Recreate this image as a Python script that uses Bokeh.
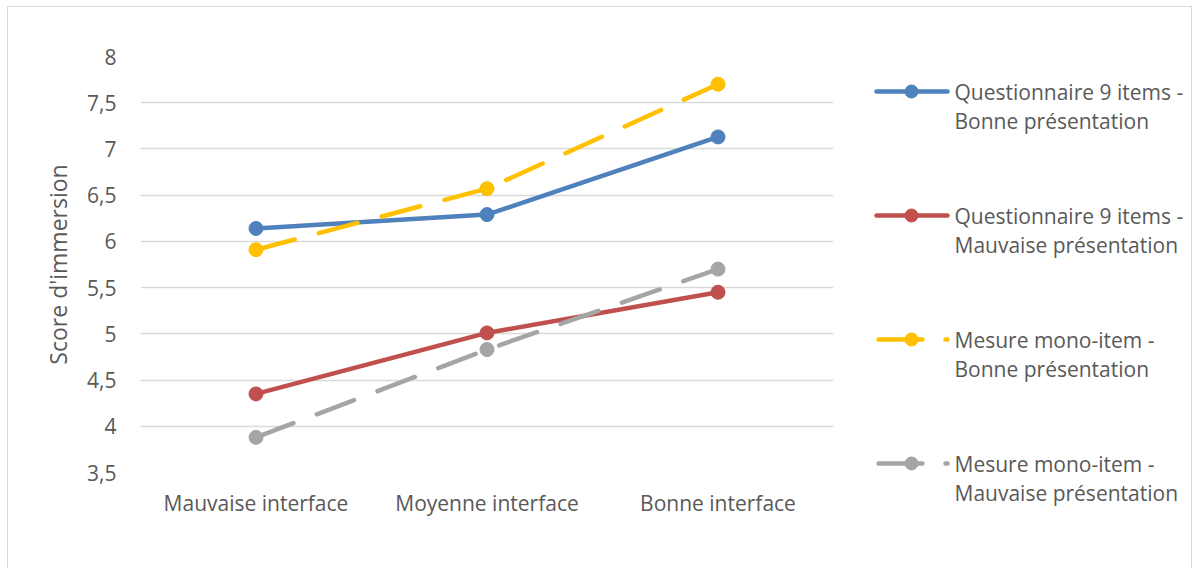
from bokeh.plotting import figure
from bokeh.models import Range1d, FactorRange, FixedTicker
from bokeh.layouts import row, column
from bokeh.embed import file_html
from bokeh.resources import INLINE
from bokeh.core.properties import value

# ---- data ----
categories = ["Mauvaise interface", "Moyenne interface", "Bonne interface"]
q9_bonne = [6.14, 6.29, 7.13]
q9_mauvaise = [4.35, 5.01, 5.45]
mono_bonne = [5.91, 6.57, 7.70]
mono_mauvaise = [3.88, 4.83, 5.70]
series_values = [q9_bonne, q9_mauvaise, mono_bonne, mono_mauvaise]
series_labels = [
    ["Questionnaire 9 items -", "Bonne présentation"],
    ["Questionnaire 9 items -", "Mauvaise présentation"],
    ["Mesure mono-item -", "Bonne présentation"],
    ["Mesure mono-item -", "Mauvaise présentation"],
]
y_ticks = [3.5, 4, 4.5, 5, 5.5, 6, 6.5, 7, 7.5, 8]
y_tick_labels = ["3,5", "4", "4,5", "5", "5,5", "6", "6,5", "7", "7,5", "8"]
y_title = "Score d'immersion"

# ---- styles ----
colors = ["#4f81bd", "#c0504d", "#ffc000", "#a5a5a5"]
dashes = ["solid", "solid", "40 25", "40 25"]
FONT = "Open Sans"
TXT = "#595959"
LW = 4.5

H = 561
TOP, BOTTOM = 49, 96
p = figure(width=850, height=H, x_range=FactorRange(*categories, range_padding=0),
           y_range=Range1d(3.5, 8), output_backend="svg", toolbar_location=None,
           min_border_left=132, min_border_right=25, min_border_top=TOP, min_border_bottom=BOTTOM)
p.outline_line_color = None
p.background_fill_color = "white"
p.border_fill_color = "white"
p.xgrid.grid_line_color = None
p.ygrid.grid_line_color = "#d9d9d9"
p.ygrid.grid_line_width = 1.5
p.yaxis.ticker = FixedTicker(ticks=y_ticks)
p.yaxis.major_label_overrides = {t: l for t, l in zip(y_ticks, y_tick_labels)}
for ax in (p.xaxis[0], p.yaxis[0]):
    ax.axis_line_color = None
    ax.major_tick_line_color = None
    ax.minor_tick_line_color = None
    ax.major_label_text_font = FONT
    ax.major_label_text_font_size = "21px"
    ax.major_label_text_color = TXT
p.xaxis.major_label_standoff = 10
p.yaxis.major_label_standoff = 18
p.yaxis.axis_label = y_title
p.yaxis.axis_label_text_font = FONT
p.yaxis.axis_label_text_font_size = "23px"
p.yaxis.axis_label_text_font_style = "normal"
p.yaxis.axis_label_text_color = TXT
p.yaxis.axis_label_standoff = 10

for vals, c, d in zip(series_values, colors, dashes):
    p.line(categories, vals, line_color=c, line_width=LW, line_dash=d, line_cap="round")
    p.scatter(categories, vals, size=14, fill_color=c, line_color=c)

# ---- legend panel (coordinates are panel pixels) ----
LW_W = 333
leg = figure(width=LW_W, height=H, x_range=Range1d(0, LW_W), y_range=Range1d(H, 0),
             output_backend="svg", toolbar_location=None, min_border=0)
leg.axis.visible = False
leg.grid.visible = False
leg.outline_line_color = None
row_y = [84, 208, 332, 456]
line_gap = 29
for y, c, d, lab in zip(row_y, colors, dashes, series_labels):
    if d == "solid":
        leg.line([18, 89], [y, y], line_color=c, line_width=LW, line_cap="round")
    else:
        leg.line([20, 89], [y, y], line_color=c, line_width=LW, line_dash="44 23", line_cap="round")
    leg.scatter([53], [y], size=13, fill_color=c, line_color=c)
    leg.text([96, 96], [y, y + line_gap], text=lab, text_font=value(FONT), text_font_size="21px",
             text_color=TXT, text_baseline="middle", text_align="left")

layout = row(p, column(leg), styles={"margin-left": "7px", "margin-top": "6px",
                                     "border-left": "1px solid #d9d9d9", "border-top": "1px solid #d9d9d9",
                                     "border-right": "1px solid #d9d9d9"})
open("out.html", "w").write(file_html(layout, INLINE))
